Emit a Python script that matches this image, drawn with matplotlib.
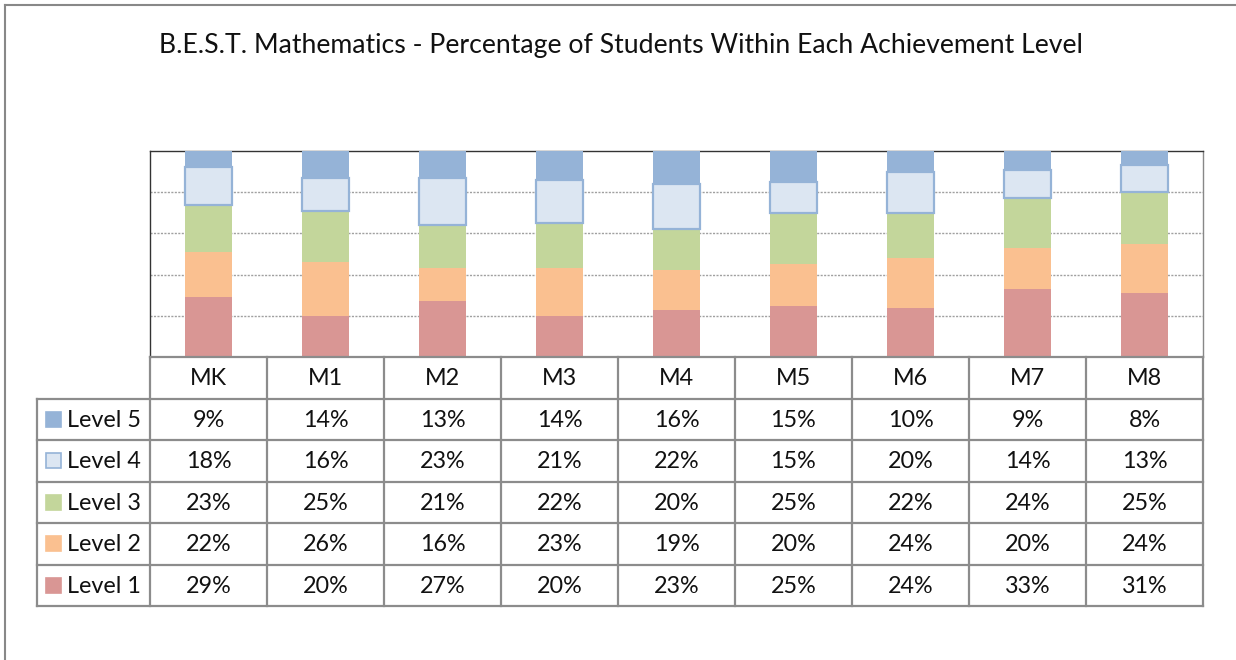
import matplotlib
matplotlib.use("Agg")
import matplotlib.pyplot as plt
from matplotlib.patches import Rectangle
from matplotlib.lines import Line2D

categories = ["MK", "M1", "M2", "M3", "M4", "M5", "M6", "M7", "M8"]
level_names = ["Level 1", "Level 2", "Level 3", "Level 4", "Level 5"]
level1 = [29, 20, 27, 20, 23, 25, 24, 33, 31]
level2 = [22, 26, 16, 23, 19, 20, 24, 20, 24]
level3 = [23, 25, 21, 22, 20, 25, 22, 24, 25]
level4 = [18, 16, 23, 21, 22, 15, 20, 14, 13]
level5 = [9, 14, 13, 14, 16, 15, 10, 9, 8]
levels = [level1, level2, level3, level4, level5]

title = "B.E.S.T. Mathematics - Percentage of Students Within Each Achievement Level"

face_colors = ["#D99694", "#FAC090", "#C3D69B", "#DCE6F2", "#95B3D7"]
edge_colors = ["none", "none", "none", "#95B3D7", "none"]

plt.rcParams['font.family'] = ['Lato', 'DejaVu Sans']

W, H = 1236, 660
fig = plt.figure(figsize=(W / 100, H / 100), dpi=100)

def fx(px):
    return px / W

def fy(py):
    return 1 - py / H

# outer frame (left and top edges visible)
fig.add_artist(Line2D([fx(5), fx(5)], [fy(5), fy(660)], color="#888888", lw=1.5))
fig.add_artist(Line2D([fx(5), fx(1236)], [fy(5), fy(5)], color="#888888", lw=1.5))

fig.text(fx(621), fy(45), title, ha="center", va="center", fontsize=19.2, color="#111111")

# chart axes
L, R, T, B = 150, 1203, 151, 357
ax = fig.add_axes([fx(L), fy(B), fx(R) - fx(L), fy(T) - fy(B)])
x = list(range(len(categories)))
bottom = [0] * len(categories)
for i, vals in enumerate(levels):
    lw = 1.6 if edge_colors[i] != "none" else 0
    ax.bar(x, vals, width=0.41, bottom=bottom, color=face_colors[i],
           edgecolor=edge_colors[i], linewidth=lw, zorder=3 + (1 if i == 3 else 0))
    bottom = [b + v for b, v in zip(bottom, vals)]
ax.set_xlim(-0.5, len(categories) - 0.5)
ax.set_ylim(0, 100)
for g in [20, 40, 60, 80]:
    ax.axhline(g, color="#A0A0A0", lw=1, linestyle=(0, (1.5, 1)), zorder=1)
ax.set_xticks([])
ax.set_yticks([])
ax.spines["left"].set_color("#333333")
ax.spines["top"].set_color("#333333")
ax.spines["right"].set_color("#888888")
ax.spines["bottom"].set_visible(False)
for s in ["left", "top", "right"]:
    ax.spines[s].set_linewidth(1.0)

# data table
TL, TR, TT, TB = 37, 1203, 357, 606
tax = fig.add_axes([fx(TL), fy(TB), fx(TR) - fx(TL), fy(TT) - fy(TB)])
tax.set_xlim(TL, TR)
tax.set_ylim(TB, TT)
tax.axis("off")

n = len(categories)
colw = (TR - L) / n
nrows = len(levels) + 1
rowh = (TB - TT) / nrows
lc = "#8C8C8C"
lwid = 1.6

# horizontal lines
for r in range(nrows + 1):
    yy = TT + r * rowh
    x0 = L if r == 0 else TL
    tax.plot([x0, TR], [yy, yy], color=lc, lw=lwid, solid_capstyle="projecting", clip_on=False)
# vertical lines
tax.plot([TL, TL], [TT + rowh, TB], color=lc, lw=lwid, clip_on=False)
for c in range(n + 1):
    xx = L + c * colw
    tax.plot([xx, xx], [TT, TB], color=lc, lw=lwid, clip_on=False)

fs = 16.8
for c, cat in enumerate(categories):
    tax.text(L + (c + 0.5) * colw, TT + 0.5 * rowh + 1, cat, ha="center", va="center",
             fontsize=fs, color="#111111")

display_order = [4, 3, 2, 1, 0]
for r, li in enumerate(display_order):
    yc = TT + (r + 1.5) * rowh
    sw = 15
    tax.add_patch(Rectangle((46, yc - sw / 2), sw, sw, facecolor=face_colors[li],
                            edgecolor=edge_colors[li] if edge_colors[li] != "none" else face_colors[li],
                            lw=1.2))
    tax.text(67, yc + 1, level_names[li], ha="left", va="center", fontsize=fs, color="#111111")
    for c in range(n):
        tax.text(L + (c + 0.5) * colw, yc + 1, f"{levels[li][c]}%", ha="center", va="center",
                 fontsize=fs, color="#111111")

fig.savefig("out.png", dpi=100)
